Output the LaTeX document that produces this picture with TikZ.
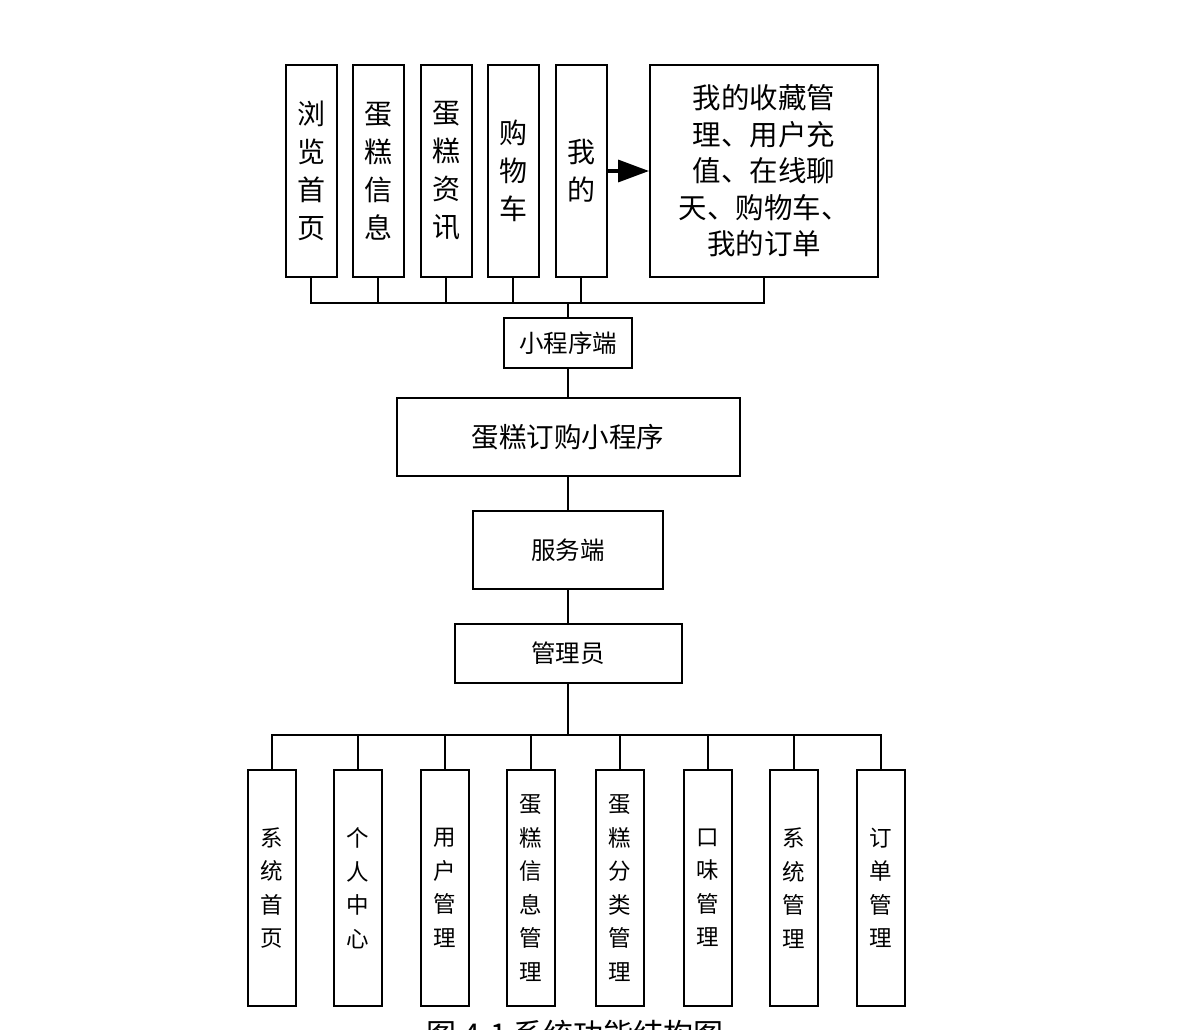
\documentclass[tikz,border=0pt]{standalone}
\usepackage{fontspec}
\setmainfont{Noto Sans CJK SC}
\usetikzlibrary{arrows.meta}
\tikzset{
  box/.style={draw, line width=2pt, inner sep=0pt, align=center, fill=white},
  topv/.style={box, minimum width=51pt, minimum height=212pt, font=\fontsize{28}{38}\selectfont},
  botv/.style={box, minimum width=48pt, minimum height=236pt, font=\fontsize{22.5}{33.5}\selectfont},
  link/.style={line width=2pt}
}
\begin{document}
\begin{tikzpicture}[x=1pt,y=-1pt]
\useasboundingbox (0,0) rectangle (1186,1030);
\clip (0,0) rectangle (1186,1030);
% top row
\node[topv] (a1) at (311,171) {浏\\览\\首\\页};
\node[topv] (a2) at (378,171) {蛋\\糕\\信\\息};
\node[topv] (a3) at (446,171) {蛋\\糕\\资\\讯};
\node[topv] (a4) at (513,171) {购\\物\\车};
\node[topv] (a5) at (581,171) {我\\的};
\node[box, minimum width=228pt, minimum height=212pt, font=\fontsize{28.5}{36.5}\selectfont] (big) at (764,171)
  {我的收藏管\\理、用户充\\值、在线聊\\天、购物车、\\我的订单};
\draw[line width=3.5pt, -{Triangle[length=31pt,width=22pt]}] (a5.east) -- (big.west);
% middle
\node[box, minimum width=128pt, minimum height=50pt, font=\fontsize{24.5}{30}\selectfont] (m1) at (568,343) {小程序端};
\node[box, minimum width=343pt, minimum height=78pt, font=\fontsize{27.5}{32}\selectfont] (m2) at (568,437) {蛋糕订购小程序};
\node[box, minimum width=190pt, minimum height=78pt, font=\fontsize{24.5}{30}\selectfont] (m3) at (568,550) {服务端};
\node[box, minimum width=227pt, minimum height=59pt, font=\fontsize{24.5}{30}\selectfont] (m4) at (568,653.5) {管理员};
% bottom row
\node[botv] (b1) at (272,888) {系\\统\\首\\页};
\node[botv] (b2) at (358,888) {个\\人\\中\\心};
\node[botv] (b3) at (445,888) {用\\户\\管\\理};
\node[botv] (b4) at (531,888) {蛋\\糕\\信\\息\\管\\理};
\node[botv] (b5) at (620,888) {蛋\\糕\\分\\类\\管\\理};
\node[botv] (b6) at (708,888) {口\\味\\管\\理};
\node[botv] (b7) at (794,888) {系\\统\\管\\理};
\node[botv] (b8) at (881,888) {订\\单\\管\\理};
% buses
\coordinate (tb) at (568,303);
\coordinate (bb) at (568,735);
\foreach \n in {a1,a2,a3,a4,a5,big} \draw[link] (\n.south) |- (tb);
\draw[link] (tb) -- (m1.north);
\draw[link] (m1.south) -- (m2.north);
\draw[link] (m2.south) -- (m3.north);
\draw[link] (m3.south) -- (m4.north);
\draw[link] (m4.south) -- (bb);
\foreach \n in {b1,b2,b3,b4,b5,b6,b7,b8} \draw[link] (bb) -| (\n.north);
% caption (cut off at bottom edge, as in the reference)
\node[anchor=north, inner sep=0pt, font=\fontsize{30}{34}\selectfont] (cap) at (575,1020) {图 4-1 系统功能结构图};
\end{tikzpicture}
\end{document}
